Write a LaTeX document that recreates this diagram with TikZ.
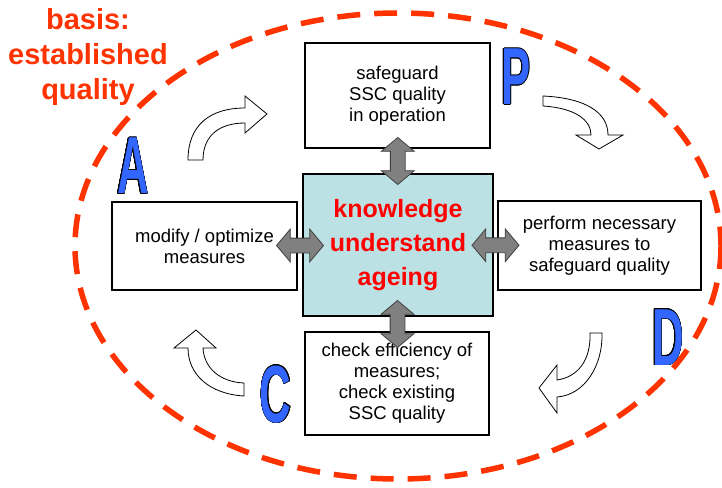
\documentclass[tikz,border=0pt]{standalone}
\usepackage{fontspec}
\setmainfont{Liberation Sans}
\usepackage[copies]{contour}
\usetikzlibrary{shapes.arrows,calc}
\contourlength{0.6pt}
\definecolor{basisred}{RGB}{255,51,0}
\definecolor{knowblue}{RGB}{188,225,228}
\definecolor{pdcablue}{RGB}{51,102,255}
\definecolor{arrowgray}{RGB}{128,128,128}
\tikzset{
  box/.style={draw, line width=1.2pt, align=center, minimum width=185pt, minimum height=88pt,
    inner sep=0pt, font=\fontsize{18.5}{21}\selectfont},
  dblarrow/.style={double arrow, draw=black!75, fill=arrowgray, line width=0.8pt,
    inner xsep=0pt, inner ysep=7pt, double arrow head extend=9pt,
    double arrow tip angle=100, minimum height=47pt},
  turn/.style={draw, fill=white, line width=0.8pt},
  pdca/.style={inner sep=0pt, text=pdcablue, font=\fontsize{81}{81}\selectfont\bfseries}
}
\newcommand{\pdcaletter}[1]{\contour{black}{\scalebox{0.54}[1]{#1}}}

\begin{document}
\begin{tikzpicture}[x=1pt,y=-1pt]
    \useasboundingbox (0,0) rectangle (722,487);
    % basis
    \draw[basisred, line width=5.5pt, dash pattern=on 23pt off 14pt] (398,246) ellipse [x radius=323, y radius=233];
    \node[basisred, align=center, font=\fontsize{29}{35}\selectfont\bfseries] (basis) at (88,57) {basis:\\established\\quality};

    \node[box, fill=knowblue, minimum width=190pt, minimum height=142pt, text=red,
      font=\fontsize{25}{34}\selectfont\bfseries] (know) at (398,245) {knowledge\\understand\\ageing};
    \node[box, minimum height=105pt] (top) at (397.5,95.5) {safeguard\\SSC quality\\in operation};
    \node[box] (modify) at (204.5,246) {modify / optimize\\measures};
    \node[box, minimum width=203pt, minimum height=89pt] (perform) at (599.5,245.5) {perform necessary\\measures to\\safeguard quality};
    \node[box, minimum width=184pt, minimum height=103pt] (check) at (397,383.5) {check efficiency of\\measures;\\check existing\\SSC quality};

    \node[dblarrow, rotate=90] (ktop) at ($(top.south)!.5!(know.north)$) {};
    \node[dblarrow, rotate=90] (kbot) at ($(know.south)!.5!(check.north)$) {};
    \node[dblarrow] (kleft) at ($(modify.east)!.5!(know.west)$) {};
    \node[dblarrow] (kright) at ($(know.east)!.5!(perform.west)$) {};

    % cycle arrows
    \draw[turn] (188,160) .. controls (188,125) and (210,108) .. (245,108) -- (245,96) -- (267,114)
      -- (245,133) -- (245,123) .. controls (220,123) and (203,135) .. (203,160) -- cycle;
    \draw[turn] (543,96) .. controls (585,98) and (608,112) .. (608,135) -- (623,135) -- (599,149)
      -- (576,135) -- (591,135) .. controls (591,120) and (575,108) .. (543,106) -- cycle;
    \draw[turn] (602,333) .. controls (603,365) and (585,395) .. (557,397) -- (557,413) -- (539,388)
      -- (557,365) -- (557,380) .. controls (578,377) and (591,360) .. (590,333) -- cycle;
    \draw[turn] (244,396) .. controls (210,394) and (188,375) .. (188,348) -- (174,348) -- (196,330)
      -- (216,348) -- (203,348) .. controls (204,368) and (220,382) .. (244,383) -- cycle;

    \node[pdca] (P) at (516,77) {\pdcaletter{P}};
    \node[pdca] (D) at (668,337.5) {\pdcaletter{D}};
    \node[pdca] (C) at (275.5,394.5) {\pdcaletter{C}};
    \node[pdca] (A) at (133,166) {\pdcaletter{A}};
\end{tikzpicture}
\end{document}
